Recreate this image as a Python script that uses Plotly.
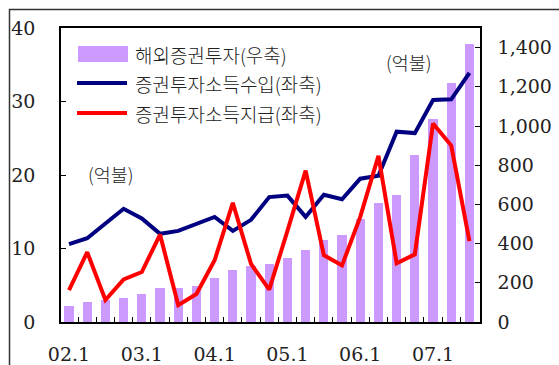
import plotly.graph_objects as go

# Quarterly periods, 2002 Q1 – 2007 Q3
quarters = ["02.1", "02.2", "02.3", "02.4",
            "03.1", "03.2", "03.3", "03.4",
            "04.1", "04.2", "04.3", "04.4",
            "05.1", "05.2", "05.3", "05.4",
            "06.1", "06.2", "06.3", "06.4",
            "07.1", "07.2", "07.3"]

# Overseas securities investment (right axis, 억불)
overseas_investment = [82, 103, 113, 123, 144, 174, 174, 184, 225, 266, 287, 297,
                       328, 368, 420, 445, 526, 608, 649, 854, 1038, 1220, 1416]

# Investment income receipts (left axis, 억불)
income_receipts = [10.6, 11.4, 13.4, 15.4, 14.1, 12.0, 12.4, 13.3, 14.3, 12.4, 13.9, 17.0,
                   17.2, 14.3, 17.3, 16.7, 19.5, 19.9, 25.9, 25.7, 30.2, 30.3, 33.9]

# Investment income payments (left axis, 억불)
income_payments = [4.35, 9.5, 3.0, 5.8, 6.8, 11.9, 2.3, 3.8, 8.4, 16.2, 7.9, 4.4,
                   12.4, 20.6, 9.1, 7.7, 14.3, 22.6, 8.0, 9.2, 27.0, 24.0, 11.0]

x_labels = ["02.1", "03.1", "04.1", "05.1", "06.1", "07.1"]
left_ticks = [0, 10, 20, 30, 40]
right_ticks = [0, 200, 400, 600, 800, 1000, 1200, 1400]

series_names = ["해외증권투자(우축)", "증권투자소득수입(좌축)", "증권투자소득지급(좌축)"]
unit_label = "(억불)"

BAR_COLOR = "#cc99ff"
BLUE = "#000080"
RED = "#ff0000"
TEXT = "#222222"
NUM_FONT = "DejaVu Serif"
KR_FONT = "Noto Sans CJK KR"

W, H = 559, 365
L, R, T, B = 61, 79, 28, 43
PW, PH = W - L - R, H - T - B


def px(x):
    return (x - L) / PW


def py(y):
    return (H - B - y) / PH


xs = list(range(len(quarters)))

fig = go.Figure()
fig.add_trace(go.Bar(x=xs, y=overseas_investment, name=series_names[0],
                     marker=dict(color=BAR_COLOR, line=dict(width=0)),
                     width=0.5, yaxis="y"))
fig.add_trace(go.Scatter(x=xs, y=income_receipts, name=series_names[1], mode="lines",
                         line=dict(color=BLUE, width=4), yaxis="y2"))
fig.add_trace(go.Scatter(x=xs, y=income_payments, name=series_names[2], mode="lines",
                         line=dict(color=RED, width=4), yaxis="y2"))

shapes = []
annotations = []

# Outer frame around the chart
shapes.append(dict(type="rect", xref="paper", yref="paper",
                   x0=px(9.5), x1=px(W + 20), y0=py(H + 20), y1=py(9.5),
                   line=dict(color="#333333", width=1.5), fillcolor="rgba(0,0,0,0)",
                   layer="below"))

# Legend block
shapes.append(dict(type="rect", xref="paper", yref="paper",
                   x0=px(78), x1=px(128), y0=py(62), y1=py(46),
                   fillcolor=BAR_COLOR, line=dict(width=0)))
shapes.append(dict(type="line", xref="paper", yref="paper",
                   x0=px(77), x1=px(127), y0=py(83), y1=py(83),
                   line=dict(color=BLUE, width=4)))
shapes.append(dict(type="line", xref="paper", yref="paper",
                   x0=px(77), x1=px(127), y0=py(113), y1=py(113),
                   line=dict(color=RED, width=4)))
kr_font = dict(family=KR_FONT, size=19, color=TEXT, weight=300)
for name, ypix in zip(series_names, [54, 83, 113]):
    annotations.append(dict(text=name, xref="paper", yref="paper",
                            x=px(133), y=py(ypix), xanchor="left", yanchor="middle",
                            showarrow=False, font=kr_font))

# Unit labels
unit_font = dict(family=KR_FONT, size=18.5, color=TEXT, weight=300)
annotations.append(dict(text=unit_label, xref="paper", yref="paper",
                        x=px(111), y=py(174), xanchor="center", yanchor="middle",
                        showarrow=False, font=unit_font))
annotations.append(dict(text=unit_label, xref="paper", yref="paper",
                        x=px(409), y=py(62), xanchor="center", yanchor="middle",
                        showarrow=False, font=unit_font))

num_font = dict(family=NUM_FONT, size=19, color=TEXT)

fig.update_layout(
    width=W, height=H,
    margin=dict(l=L, r=R, t=T, b=B, pad=0, autoexpand=False),
    paper_bgcolor="white", plot_bgcolor="white",
    showlegend=False,
    bargap=0,
    shapes=shapes,
    annotations=annotations,
    xaxis=dict(range=[-0.44, 22.58], showgrid=False, zeroline=False, automargin=False,
               tickmode="array", tickvals=[quarters.index(t) for t in x_labels],
               ticktext=x_labels, ticks="", tickfont=num_font,
               ticklabelstandoff=14,
               minor=dict(tickmode="array",
                          tickvals=[i + 0.5 for i in range(len(quarters) - 1)],
                          ticks="inside", ticklen=5, tickwidth=1, tickcolor="black"),
               showline=True, linecolor="black", linewidth=1.5, mirror=True),
    yaxis=dict(range=[0, 1500], side="right", showgrid=False, zeroline=False,
               automargin=False,
               tickmode="array", tickvals=right_ticks,
               ticktext=[f"{v:,}" for v in right_ticks],
               ticks="inside", ticklen=5, tickwidth=1, tickcolor="black",
               tickfont=num_font, ticklabelstandoff=12,
               showline=True, linecolor="black", linewidth=1.5),
    yaxis2=dict(range=[0, 40], side="left", overlaying="y", showgrid=False,
                zeroline=False, automargin=False,
                tickmode="array", tickvals=left_ticks,
                ticks="inside", ticklen=5, tickwidth=1, tickcolor="black",
                tickfont=num_font, ticklabelstandoff=20,
                showline=True, linecolor="black", linewidth=1.5),
)

fig.write_html("out.html")
